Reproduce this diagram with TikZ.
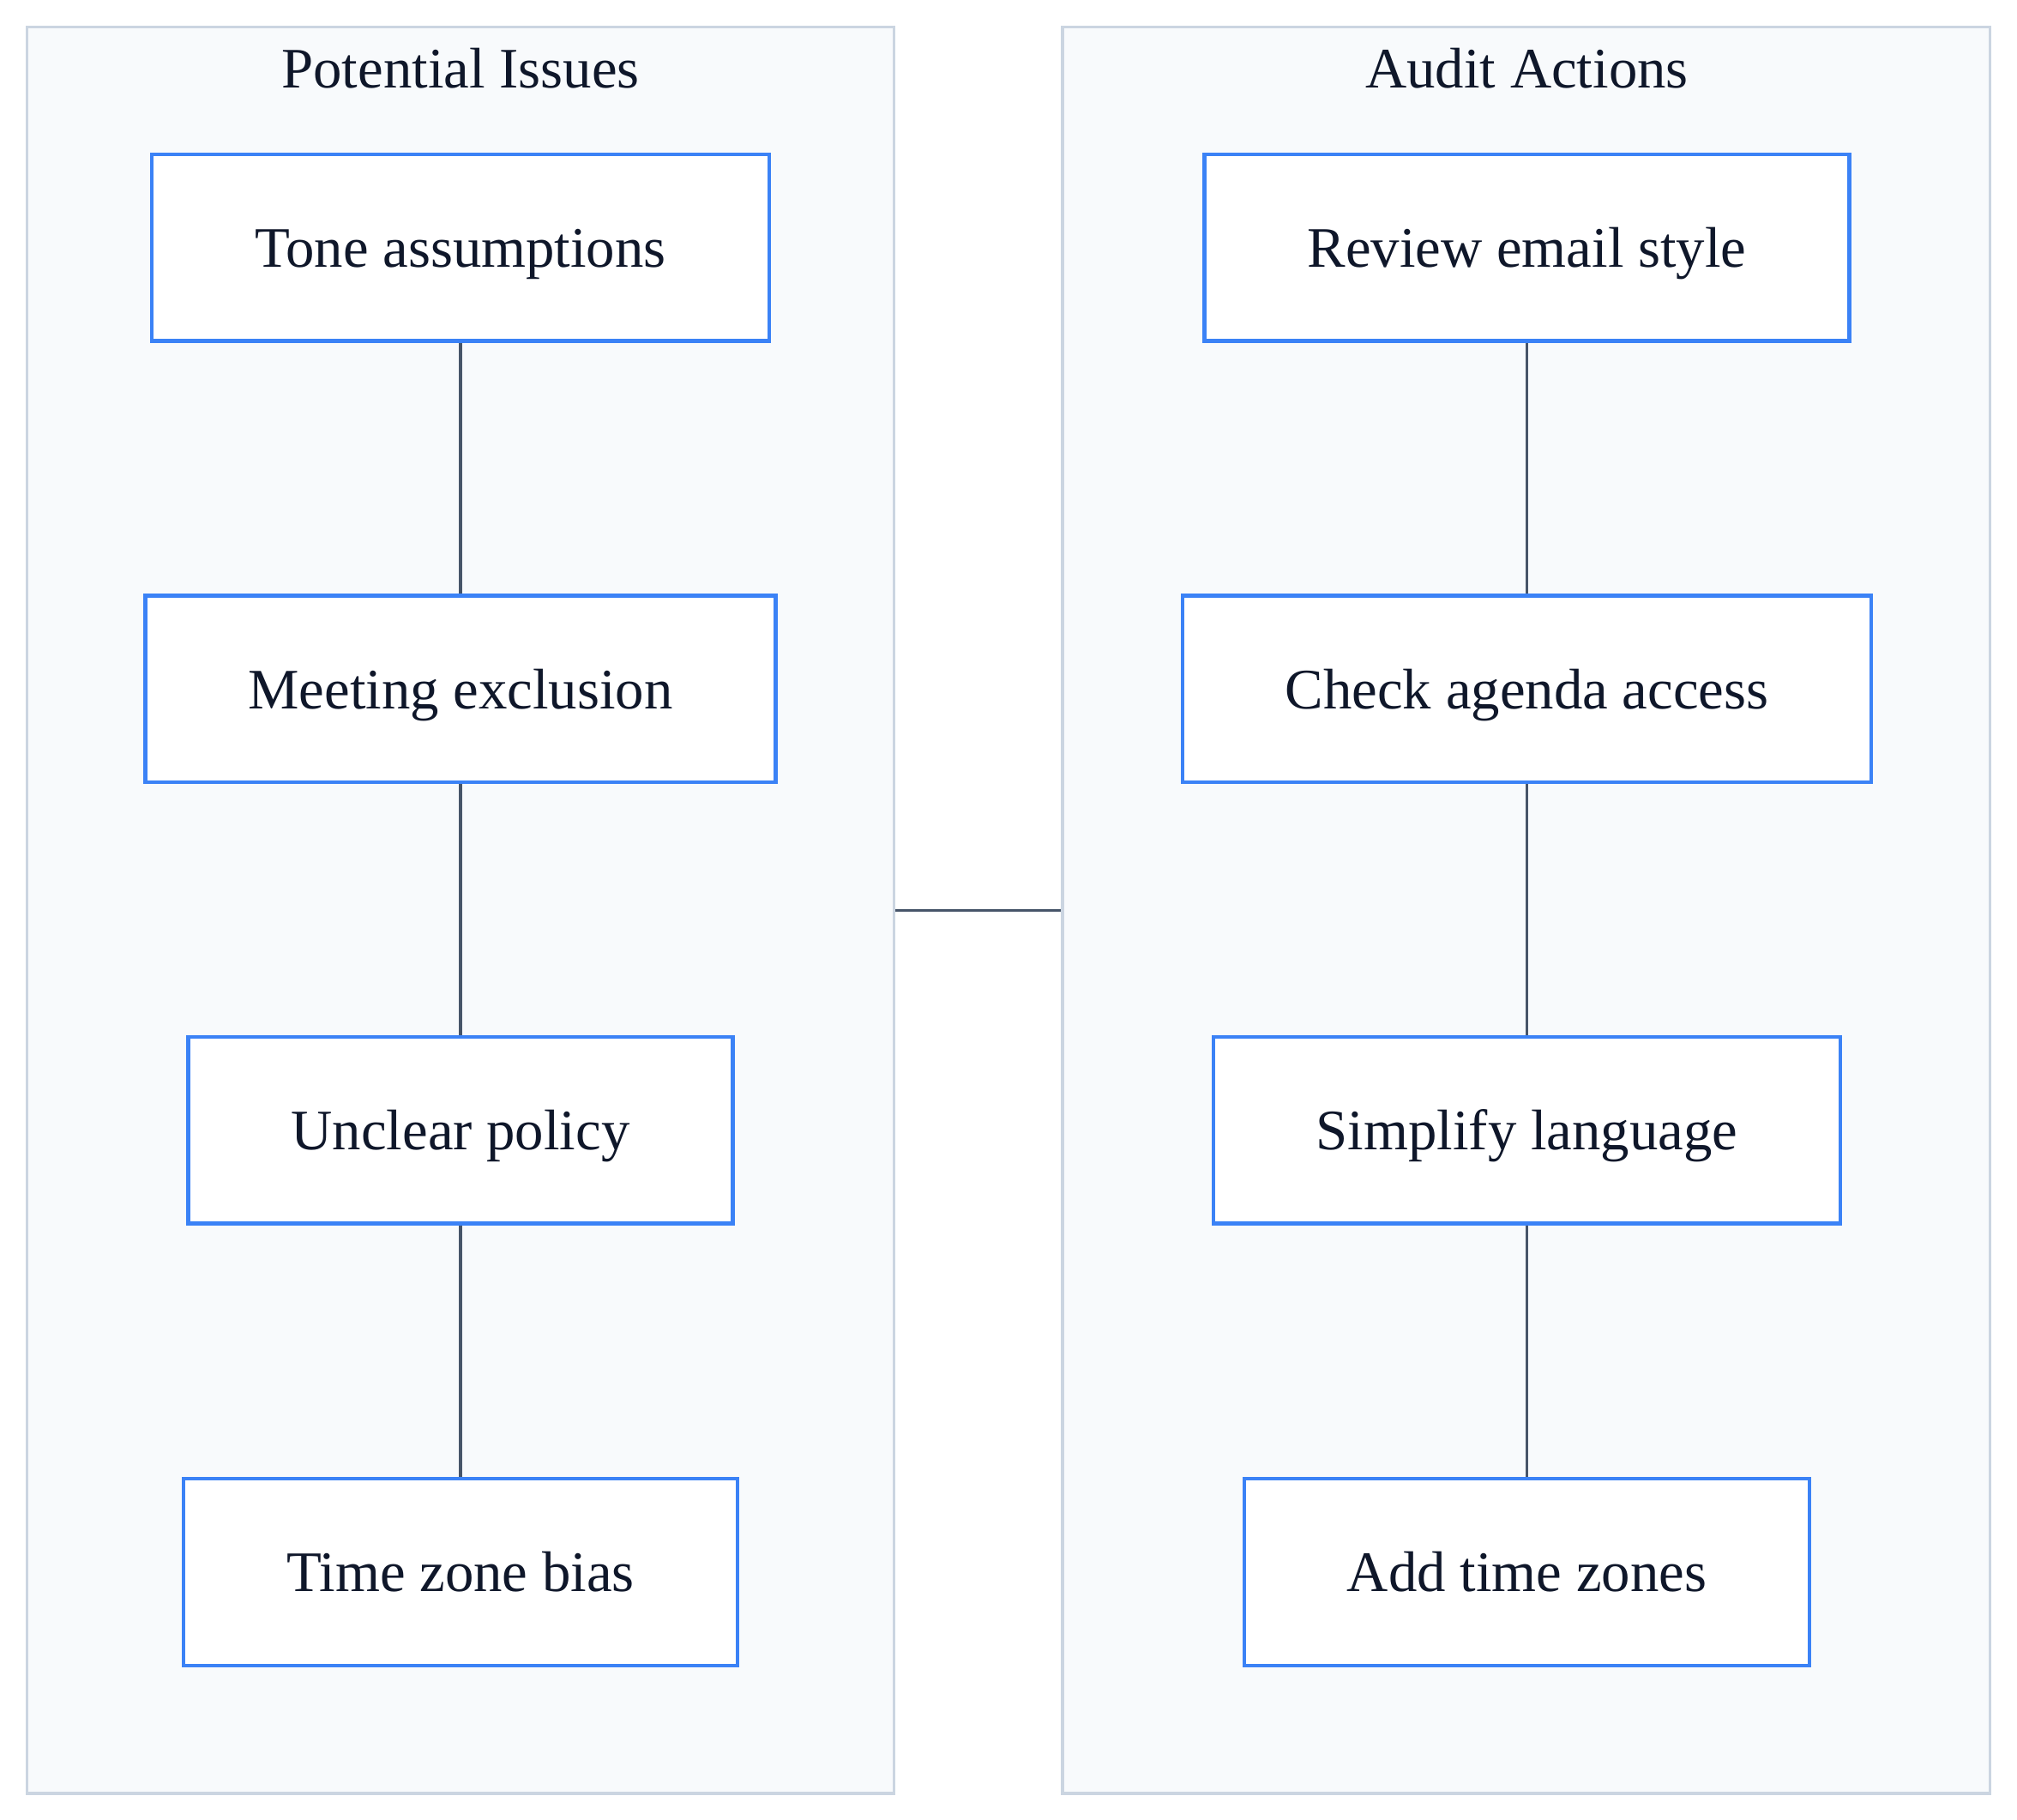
\documentclass[tikz,border=0pt]{standalone}
\usepackage{fontspec}
\setmainfont{Liberation Serif}
\usetikzlibrary{positioning}
\definecolor{grpfill}{RGB}{248,250,252}
\definecolor{grpbdr}{RGB}{203,213,225}
\definecolor{boxbdr}{RGB}{59,130,246}
\definecolor{txtclr}{RGB}{15,23,42}
\definecolor{lnclr}{RGB}{71,85,105}
\tikzset{
  grpbox/.style={rectangle,draw=grpbdr,fill=grpfill,line width=0.9pt,
    minimum height=20.595cm,inner sep=0pt},
  grptitle/.style={font=\fontsize{19}{23}\selectfont,text=txtclr,anchor=center},
  stepbox/.style={rectangle,draw=boxbdr,fill=white,line width=1.2pt,
    minimum height=2.175cm,inner xsep=1.2cm,text height=13pt,text depth=0pt,
    font=\fontsize{19}{23}\selectfont,text=txtclr},
  link/.style={draw=lnclr,line width=0.9pt},
}
\begin{document}
\begin{tikzpicture}
  \useasboundingbox (0,0) rectangle (23.52,-21.22);
  % clusters
  \node[grpbox,minimum width=10.11cm] (issues) at (5.37,-10.6125) {};
  \node[grpbox,minimum width=10.815cm] (actions) at (17.7975,-10.6125) {};
  \node[grptitle] (issuesT) at (5.37,-0.795) {Potential Issues};
  \node[grptitle] (actionsT) at (17.805,-0.795) {Audit Actions};
  % left column
  \node[stepbox] (tone) at (5.37,-2.8875) {Tone assumptions};
  \node[stepbox] (meet) at (5.37,-8.0325) {Meeting exclusion};
  \node[stepbox] (policy) at (5.37,-13.1775) {Unclear policy};
  \node[stepbox] (tz) at (5.37,-18.33) {Time zone bias};
  % right column
  \node[stepbox] (review) at (17.805,-2.8875) {Review email style};
  \node[stepbox] (agenda) at (17.805,-8.0325) {Check agenda access};
  \node[stepbox] (simplify) at (17.805,-13.1775) {Simplify language};
  \node[stepbox] (addtz) at (17.805,-18.33) {Add time zones};
  % connectors
  \draw[link] (tone) -- (meet);
  \draw[link] (meet) -- (policy);
  \draw[link] (policy) -- (tz);
  \draw[link] (review) -- (agenda);
  \draw[link] (agenda) -- (simplify);
  \draw[link] (simplify) -- (addtz);
  \draw[link] (issues.east) -- (actions.west);
\end{tikzpicture}
\end{document}
